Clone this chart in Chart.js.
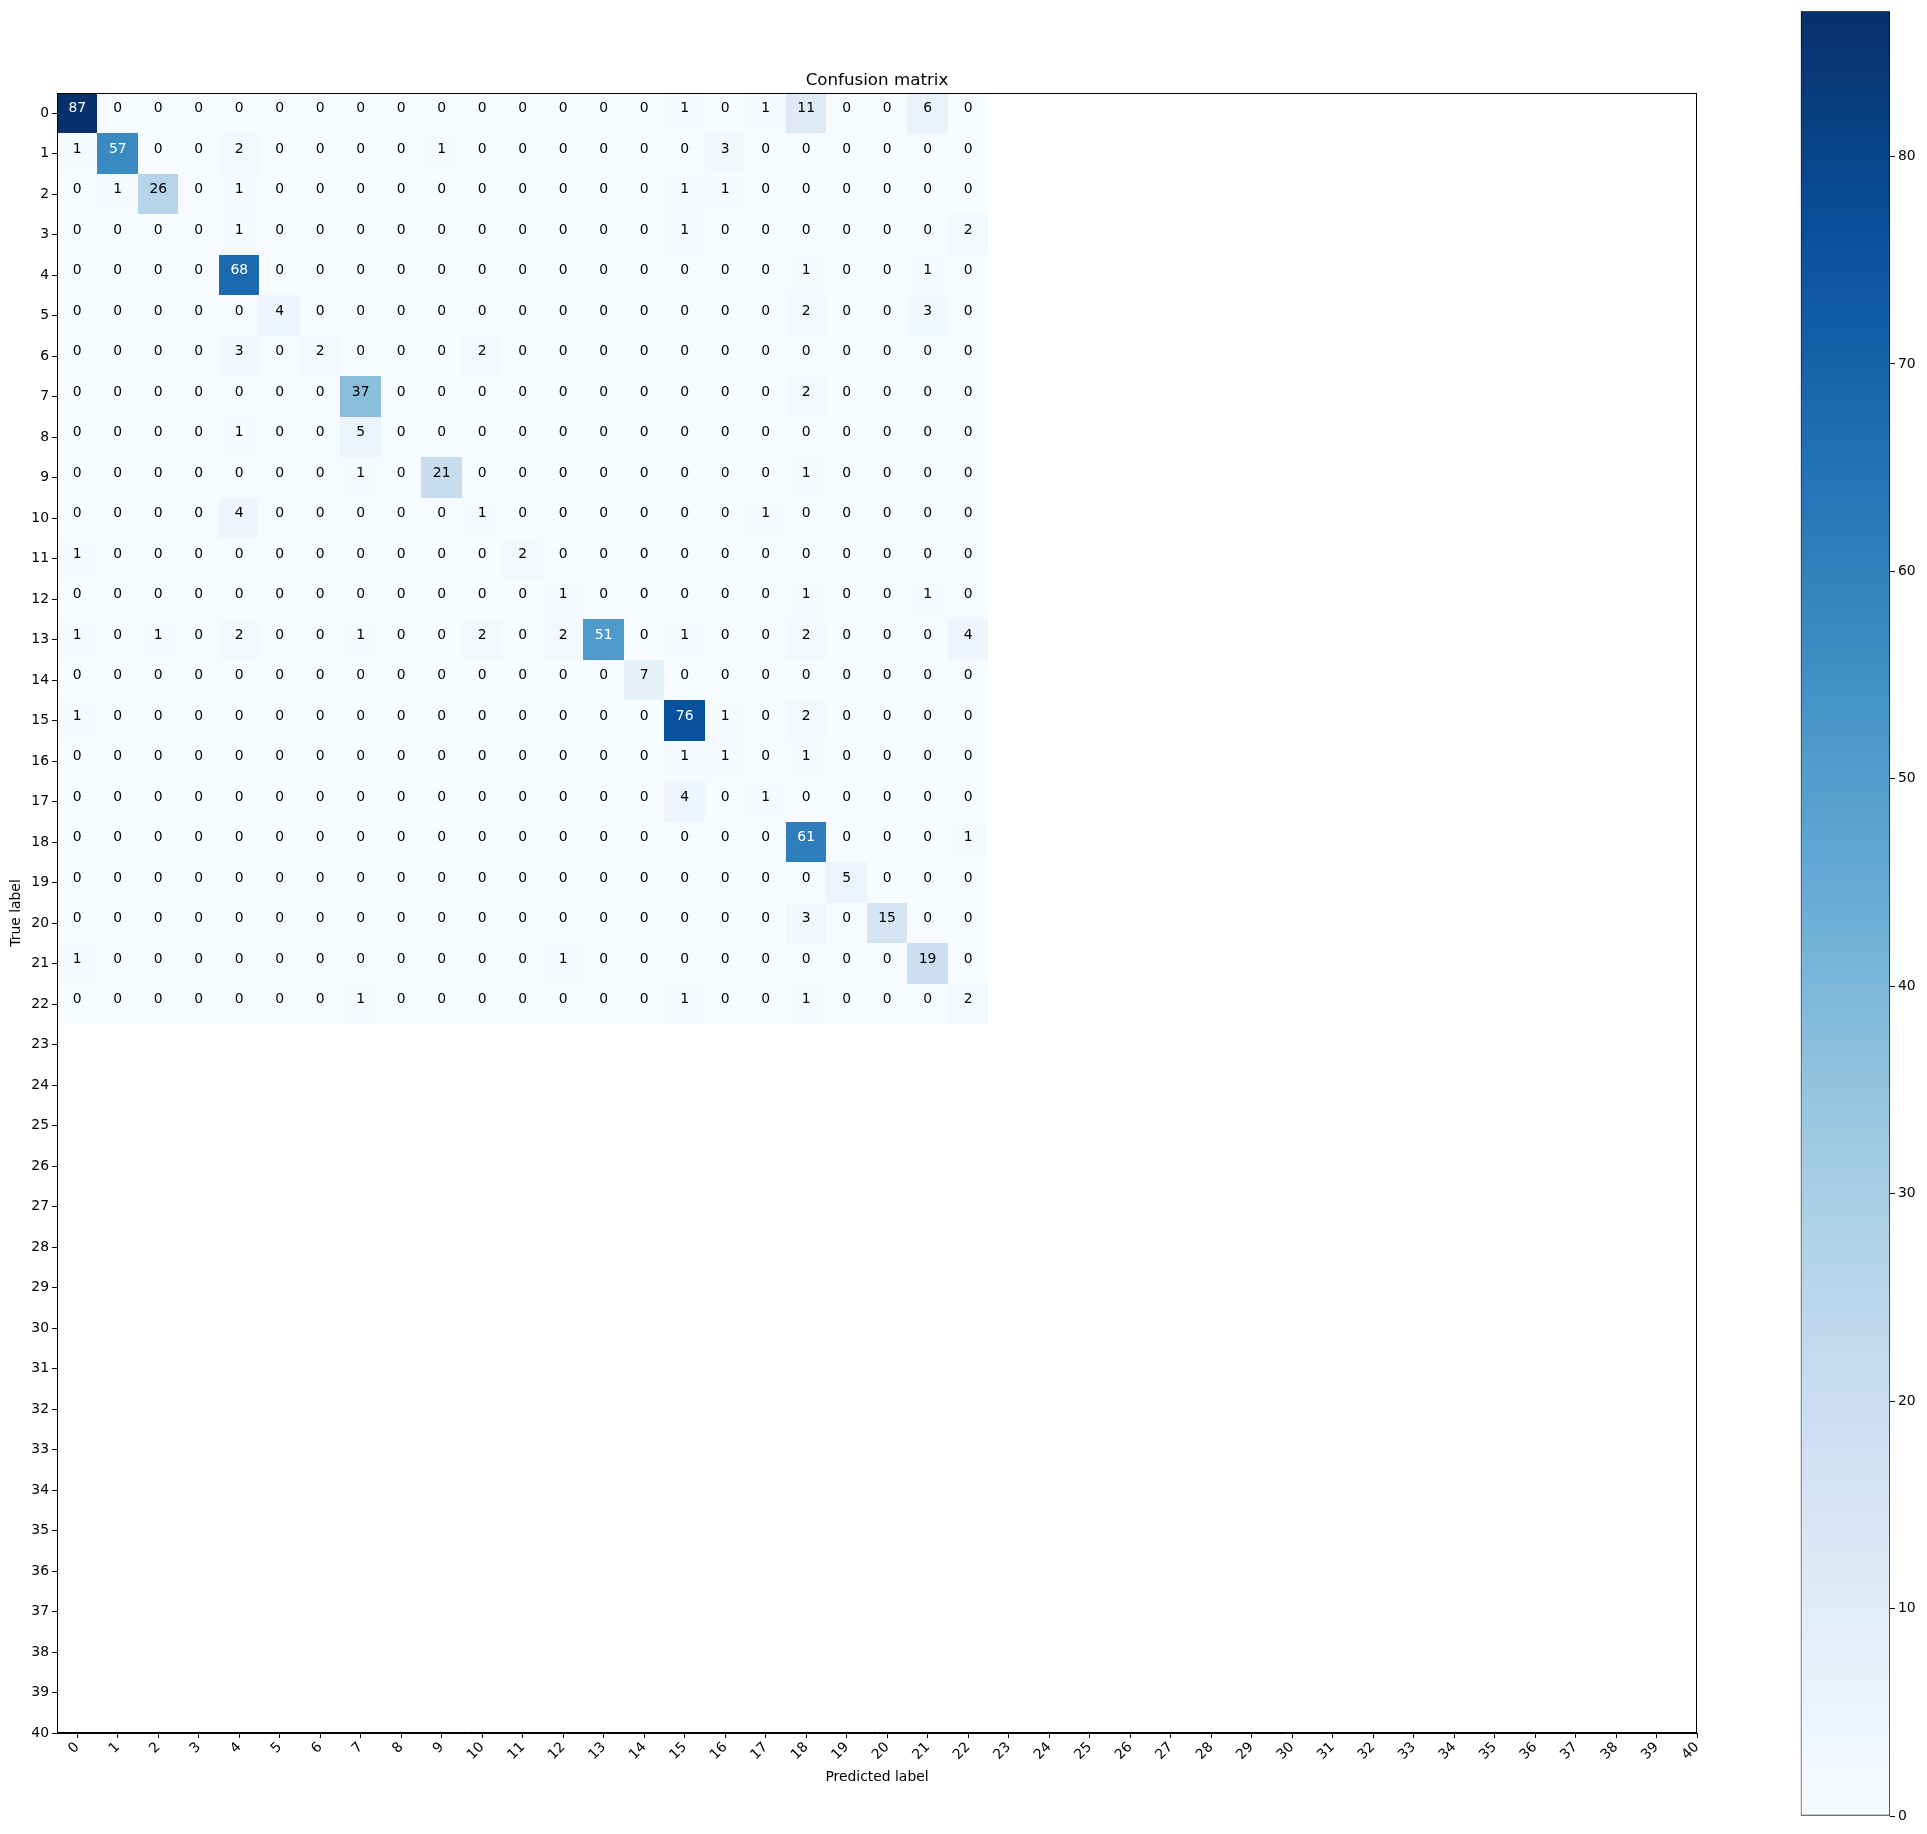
<!DOCTYPE html>
<html>
<head>
<meta charset="utf-8">
<script src="https://cdn.jsdelivr.net/npm/chart.js@4.4.1/dist/chart.umd.min.js"></script>
<style>
html, body { margin: 0; padding: 0; background: #ffffff; }
#wrap { position: relative; width: 1927px; height: 1834px; }
#main { position: absolute; left: 0; top: 0; }
#cbar { position: absolute; left: 1790px; top: 0; }
</style>
</head>
<body>
<div id="wrap">
  <canvas id="main" width="1927" height="1834"></canvas>
  <canvas id="cbar" width="137" height="1834"></canvas>
</div>
<script>
// ---- DATA ----
const chartTitle = 'Confusion matrix';
const xAxisTitle = 'Predicted label';
const yAxisTitle = 'True label';

// Rows = true label 0..22, columns = predicted label 0..22
const row0  = [87, 0, 0, 0, 0, 0, 0, 0, 0, 0, 0, 0, 0, 0, 0, 1, 0, 1, 11, 0, 0, 6, 0];
const row1  = [1, 57, 0, 0, 2, 0, 0, 0, 0, 1, 0, 0, 0, 0, 0, 0, 3, 0, 0, 0, 0, 0, 0];
const row2  = [0, 1, 26, 0, 1, 0, 0, 0, 0, 0, 0, 0, 0, 0, 0, 1, 1, 0, 0, 0, 0, 0, 0];
const row3  = [0, 0, 0, 0, 1, 0, 0, 0, 0, 0, 0, 0, 0, 0, 0, 1, 0, 0, 0, 0, 0, 0, 2];
const row4  = [0, 0, 0, 0, 68, 0, 0, 0, 0, 0, 0, 0, 0, 0, 0, 0, 0, 0, 1, 0, 0, 1, 0];
const row5  = [0, 0, 0, 0, 0, 4, 0, 0, 0, 0, 0, 0, 0, 0, 0, 0, 0, 0, 2, 0, 0, 3, 0];
const row6  = [0, 0, 0, 0, 3, 0, 2, 0, 0, 0, 2, 0, 0, 0, 0, 0, 0, 0, 0, 0, 0, 0, 0];
const row7  = [0, 0, 0, 0, 0, 0, 0, 37, 0, 0, 0, 0, 0, 0, 0, 0, 0, 0, 2, 0, 0, 0, 0];
const row8  = [0, 0, 0, 0, 1, 0, 0, 5, 0, 0, 0, 0, 0, 0, 0, 0, 0, 0, 0, 0, 0, 0, 0];
const row9  = [0, 0, 0, 0, 0, 0, 0, 1, 0, 21, 0, 0, 0, 0, 0, 0, 0, 0, 1, 0, 0, 0, 0];
const row10 = [0, 0, 0, 0, 4, 0, 0, 0, 0, 0, 1, 0, 0, 0, 0, 0, 0, 1, 0, 0, 0, 0, 0];
const row11 = [1, 0, 0, 0, 0, 0, 0, 0, 0, 0, 0, 2, 0, 0, 0, 0, 0, 0, 0, 0, 0, 0, 0];
const row12 = [0, 0, 0, 0, 0, 0, 0, 0, 0, 0, 0, 0, 1, 0, 0, 0, 0, 0, 1, 0, 0, 1, 0];
const row13 = [1, 0, 1, 0, 2, 0, 0, 1, 0, 0, 2, 0, 2, 51, 0, 1, 0, 0, 2, 0, 0, 0, 4];
const row14 = [0, 0, 0, 0, 0, 0, 0, 0, 0, 0, 0, 0, 0, 0, 7, 0, 0, 0, 0, 0, 0, 0, 0];
const row15 = [1, 0, 0, 0, 0, 0, 0, 0, 0, 0, 0, 0, 0, 0, 0, 76, 1, 0, 2, 0, 0, 0, 0];
const row16 = [0, 0, 0, 0, 0, 0, 0, 0, 0, 0, 0, 0, 0, 0, 0, 1, 1, 0, 1, 0, 0, 0, 0];
const row17 = [0, 0, 0, 0, 0, 0, 0, 0, 0, 0, 0, 0, 0, 0, 0, 4, 0, 1, 0, 0, 0, 0, 0];
const row18 = [0, 0, 0, 0, 0, 0, 0, 0, 0, 0, 0, 0, 0, 0, 0, 0, 0, 0, 61, 0, 0, 0, 1];
const row19 = [0, 0, 0, 0, 0, 0, 0, 0, 0, 0, 0, 0, 0, 0, 0, 0, 0, 0, 0, 5, 0, 0, 0];
const row20 = [0, 0, 0, 0, 0, 0, 0, 0, 0, 0, 0, 0, 0, 0, 0, 0, 0, 0, 3, 0, 15, 0, 0];
const row21 = [1, 0, 0, 0, 0, 0, 0, 0, 0, 0, 0, 0, 1, 0, 0, 0, 0, 0, 0, 0, 0, 19, 0];
const row22 = [0, 0, 0, 0, 0, 0, 0, 1, 0, 0, 0, 0, 0, 0, 0, 1, 0, 0, 1, 0, 0, 0, 2];

const matrixRows = [row0, row1, row2, row3, row4, row5, row6, row7, row8, row9, row10,
  row11, row12, row13, row14, row15, row16, row17, row18, row19, row20, row21, row22];

const xTickLabels = ['0','1','2','3','4','5','6','7','8','9','10','11','12','13','14','15','16','17','18','19','20',
  '21','22','23','24','25','26','27','28','29','30','31','32','33','34','35','36','37','38','39','40'];
const yTickLabels = ['0','1','2','3','4','5','6','7','8','9','10','11','12','13','14','15','16','17','18','19','20',
  '21','22','23','24','25','26','27','28','29','30','31','32','33','34','35','36','37','38','39','40'];
const colorbarTicks = [0, 10, 20, 30, 40, 50, 60, 70, 80];

// matplotlib "Blues" colormap anchor colours
const bluesStops = ['#f7fbff','#deebf7','#c6dbef','#9ecae1','#6baed6','#4292c6','#2171b5','#08519c','#08306b'];

// ---- HELPERS ----
const FONT = "'DejaVu Sans', 'Liberation Sans', sans-serif";
const vmax = Math.max(...matrixRows.map(r => Math.max(...r)));
const textThreshold = vmax / 2;

function hexToRgb(h) {
  const n = parseInt(h.slice(1), 16);
  return [(n >> 16) & 255, (n >> 8) & 255, n & 255];
}
const bluesRgb = bluesStops.map(hexToRgb);
function blues(t) {
  t = Math.max(0, Math.min(1, t));
  const p = t * (bluesRgb.length - 1);
  const i = Math.floor(p);
  if (i >= bluesRgb.length - 1) return bluesStops[bluesStops.length - 1];
  const f = p - i;
  const a = bluesRgb[i], b = bluesRgb[i + 1];
  const c = a.map((v, k) => Math.round(v + (b[k] - v) * f));
  return 'rgb(' + c.join(',') + ')';
}

const points = [];
matrixRows.forEach((row, r) => row.forEach((v, c) => points.push({ x: c, y: r, v: v })));

const cellPlugin = {
  id: 'cells',
  beforeDatasetsDraw(chart) {
    const { ctx, chartArea, scales: { x, y } } = chart;
    ctx.save();
    ctx.beginPath();
    ctx.rect(chartArea.left, chartArea.top, chartArea.right - chartArea.left, chartArea.bottom - chartArea.top);
    ctx.clip();
    points.forEach(p => {
      const x0 = Math.round(x.getPixelForValue(p.x - 0.5));
      const x1 = Math.round(x.getPixelForValue(p.x + 0.5));
      const y0 = Math.round(y.getPixelForValue(p.y - 0.5));
      const y1 = Math.round(y.getPixelForValue(p.y + 0.5));
      ctx.fillStyle = blues(p.v / vmax);
      ctx.fillRect(x0, Math.min(y0, y1), x1 - x0, Math.abs(y1 - y0));
    });
    ctx.restore();
  },
  afterDatasetsDraw(chart) {
    const { ctx, scales: { x, y } } = chart;
    ctx.save();
    ctx.font = '13.9px ' + FONT;
    ctx.textAlign = 'center';
    ctx.textBaseline = 'middle';
    points.forEach(p => {
      ctx.fillStyle = p.v > textThreshold ? '#ffffff' : '#000000';
      ctx.fillText(String(p.v), x.getPixelForValue(p.x), y.getPixelForValue(p.y) - 4.5);
    });
    ctx.restore();
  },
  afterDraw(chart) {
    const { ctx, chartArea } = chart;
    ctx.save();
    ctx.strokeStyle = '#000';
    ctx.lineWidth = 1;
    ctx.strokeRect(chartArea.left + 0.5, chartArea.top + 0.5,
      chartArea.right - chartArea.left - 1, chartArea.bottom - chartArea.top - 1);
    const cx = (chartArea.left + chartArea.right) / 2;
    const cy = (chartArea.top + chartArea.bottom) / 2;
    ctx.fillStyle = '#000';
    ctx.textAlign = 'center';
    ctx.textBaseline = 'middle';
    ctx.font = '16.7px ' + FONT;
    ctx.fillText(chartTitle, cx, chartArea.top - 12);
    ctx.font = '13.9px ' + FONT;
    ctx.fillText(xAxisTitle, cx, chartArea.bottom + 44);
    ctx.translate(16, cy);
    ctx.rotate(-Math.PI / 2);
    ctx.fillText(yAxisTitle, 0, 0);
    ctx.restore();
  }
};

const axisCommon = {
  type: 'linear',
  min: -0.5,
  max: 40,
  grid: { display: true, drawOnChartArea: false, drawTicks: true, tickLength: 5, tickColor: '#000', tickWidth: 1 },
  border: { display: true, color: '#000', width: 1 }
};

new Chart(document.getElementById('main'), {
  type: 'scatter',
  data: { datasets: [{ data: points, pointRadius: 0, pointHoverRadius: 0 }] },
  options: {
    responsive: false,
    animation: false,
    devicePixelRatio: 1,
    events: [],
    layout: { padding: { left: 0, top: 93, right: 230, bottom: 0 } },
    plugins: { legend: { display: false }, tooltip: { enabled: false }, title: { display: false } },
    scales: {
      x: Object.assign({}, axisCommon, {
        position: 'bottom',
        afterBuildTicks: s => { s.ticks = xTickLabels.map(l => ({ value: Number(l) })); },
        afterFit: s => { s.height = 101; },
        ticks: {
          autoSkip: false, minRotation: 45, maxRotation: 45, color: '#000', padding: 1,
          font: { family: FONT, size: 13.9 },
          callback: (v, i) => xTickLabels[i]
        }
      }),
      y: Object.assign({}, axisCommon, {
        position: 'left',
        reverse: true,
        afterBuildTicks: s => { s.ticks = yTickLabels.map(l => ({ value: Number(l) })); },
        afterFit: s => { s.width = 57; },
        ticks: {
          autoSkip: false, color: '#000', padding: 3,
          font: { family: FONT, size: 13.9 },
          callback: (v, i) => yTickLabels[i]
        }
      })
    }
  },
  plugins: [cellPlugin]
});

// ---- COLORBAR ----
new Chart(document.getElementById('cbar'), {
  type: 'bar',
  data: {
    labels: [''],
    datasets: [{
      data: [[0, vmax]],
      backgroundColor: c => {
        const a = c.chart.chartArea;
        if (!a) return bluesStops[0];
        const g = c.chart.ctx.createLinearGradient(0, a.bottom, 0, a.top);
        bluesStops.forEach((col, i) => g.addColorStop(i / (bluesStops.length - 1), col));
        return g;
      },
      borderColor: '#000',
      borderWidth: 1,
      borderSkipped: false,
      barPercentage: 1,
      categoryPercentage: 1
    }]
  },
  options: {
    responsive: false,
    animation: false,
    devicePixelRatio: 1,
    events: [],
    layout: { padding: { left: 10.7, top: 10, right: 0, bottom: 18 } },
    plugins: { legend: { display: false }, tooltip: { enabled: false } },
    scales: {
      x: { display: false },
      y: {
        position: 'right',
        min: 0,
        max: vmax,
        afterBuildTicks: s => { s.ticks = colorbarTicks.map(v => ({ value: v })); },
        afterFit: s => { s.width = 37; },
        ticks: { color: '#000', padding: 3, font: { family: FONT, size: 13.9 } },
        grid: { display: true, drawOnChartArea: false, drawTicks: true, tickLength: 5, tickColor: '#000' },
        border: { display: false }
      }
    }
  }
});
</script>
</body>
</html>
